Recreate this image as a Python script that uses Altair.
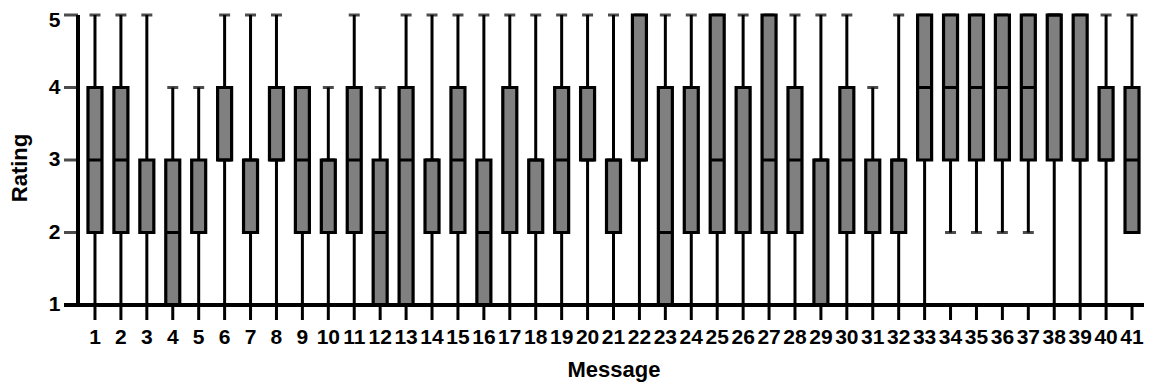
import altair as alt
import pandas as pd

messages = [str(i) for i in range(1, 42)]
mins    = [1,1,1,1,1,1,1,1,1,1, 1,1,1,1,1,1,1,1,1,1, 1,1,1,1,1,1,1,1,1,1, 1,1,1,2,2,2,2,1,1,1, 2]
q1s     = [2,2,2,1,2,3,2,3,2,2, 2,1,1,2,2,1,2,2,2,3, 2,3,1,2,2,2,2,2,1,2, 2,2,3,3,3,3,3,3,3,3, 2]
medians = [3,3,2,2,2,3,3,3,3,3, 3,2,3,3,3,2,2,3,3,3, 3,3,2,4,3,4,3,3,3,3, 2,3,4,4,4,4,4,5,3,3, 3]
q3s     = [4,4,3,3,3,4,3,4,4,3, 4,3,4,3,4,3,4,3,4,4, 3,5,4,4,5,4,5,4,3,4, 3,3,5,5,5,5,5,5,5,4, 4]
maxs    = [5,5,5,4,4,5,5,5,4,4, 5,4,5,5,5,5,5,5,5,5, 5,5,5,5,5,5,5,5,5,5, 4,5,5,5,5,5,5,5,5,5, 5]
rating_ticks = [1, 2, 3, 4, 5]

df = pd.DataFrame({
    "Message": messages,
    "min": mins, "q1": q1s, "median": medians, "q3": q3s, "max": maxs,
})
ticks_df = pd.DataFrame({"v": rating_ticks})

FONT = "Liberation Sans"
W, H = 1080, 305

x = alt.X(
    "Message:O",
    sort=messages,
    scale=alt.Scale(paddingInner=0, paddingOuter=0.155, range=[14, 1085]),
    axis=alt.Axis(
        title="Message", labelAngle=0, ticks=False, domain=False, labelPadding=6,
        titlePadding=12, labelOverlap=False,
    ),
)

# the lower part of the scale leaves room for the tick marks below the baseline
yscale = alt.Scale(domain=[0.7931, 5], nice=False, zero=False)
yaxis = alt.Axis(
    title="Rating", values=rating_ticks, ticks=False, domain=False, grid=False,
    labelPadding=4, titlePadding=17, labelFlush=1, labelFlushOffset=6,
)

base = alt.Chart(df)

# axis lines and tick marks (drawn as filled rectangles)
x_line = base.mark_rule(color="black", strokeWidth=3).encode(
    y=alt.Y(datum=1, scale=yscale, axis=yaxis), x=alt.value(0), x2=alt.value(W + 5)
)
y_line = base.mark_rule(color="black", strokeWidth=3).encode(
    x=alt.value(14), y=alt.Y(datum=1, scale=yscale, axis=yaxis), y2=alt.datum(5)
)
xticks = base.mark_bar(color="black", size=3, stroke=None).encode(
    x=x, y=alt.Y(datum=1, scale=yscale, axis=yaxis), y2=alt.value(H)
)
yticks = alt.Chart(ticks_df).mark_tick(color="black", size=14, thickness=3).encode(
    y=alt.Y("v:Q", scale=yscale, axis=yaxis), x=alt.value(7)
)

whisker = base.mark_rule(color="black", strokeWidth=3).encode(
    x=x,
    y=alt.Y("min:Q", scale=yscale, axis=yaxis),
    y2="max:Q",
)
cap_top = base.mark_tick(color="black", size=11, thickness=3).encode(
    x=x, y=alt.Y("max:Q", scale=yscale, axis=yaxis)
)
cap_bot = base.mark_tick(color="black", size=11, thickness=3).encode(
    x=x, y=alt.Y("min:Q", scale=yscale, axis=yaxis)
)
box = base.mark_bar(size=14, fill="#808080", stroke="black", strokeWidth=3.2).encode(
    x=x,
    y=alt.Y("q1:Q", scale=yscale, axis=yaxis),
    y2="q3:Q",
)
med = base.mark_tick(color="black", size=14, thickness=3, opacity=1).encode(
    x=x, y=alt.Y("median:Q", scale=yscale, axis=yaxis)
)

chart = alt.layer(xticks, yticks, whisker, cap_top, cap_bot, box, med, x_line, y_line).properties(
    width=W, height=H,
    autosize=alt.AutoSizeParams(type="none"),
    padding={"left": 56, "top": 7, "right": 0, "bottom": 62},
    background="white",
).configure_view(stroke=None).configure_axis(
    labelFont=FONT, labelFontSize=21, labelFontWeight="bold", labelColor="black",
    titleFont=FONT, titleFontSize=22, titleFontWeight="bold", titleColor="black",
)

chart.save("out.html", embed_options={"renderer": "svg", "actions": False})
